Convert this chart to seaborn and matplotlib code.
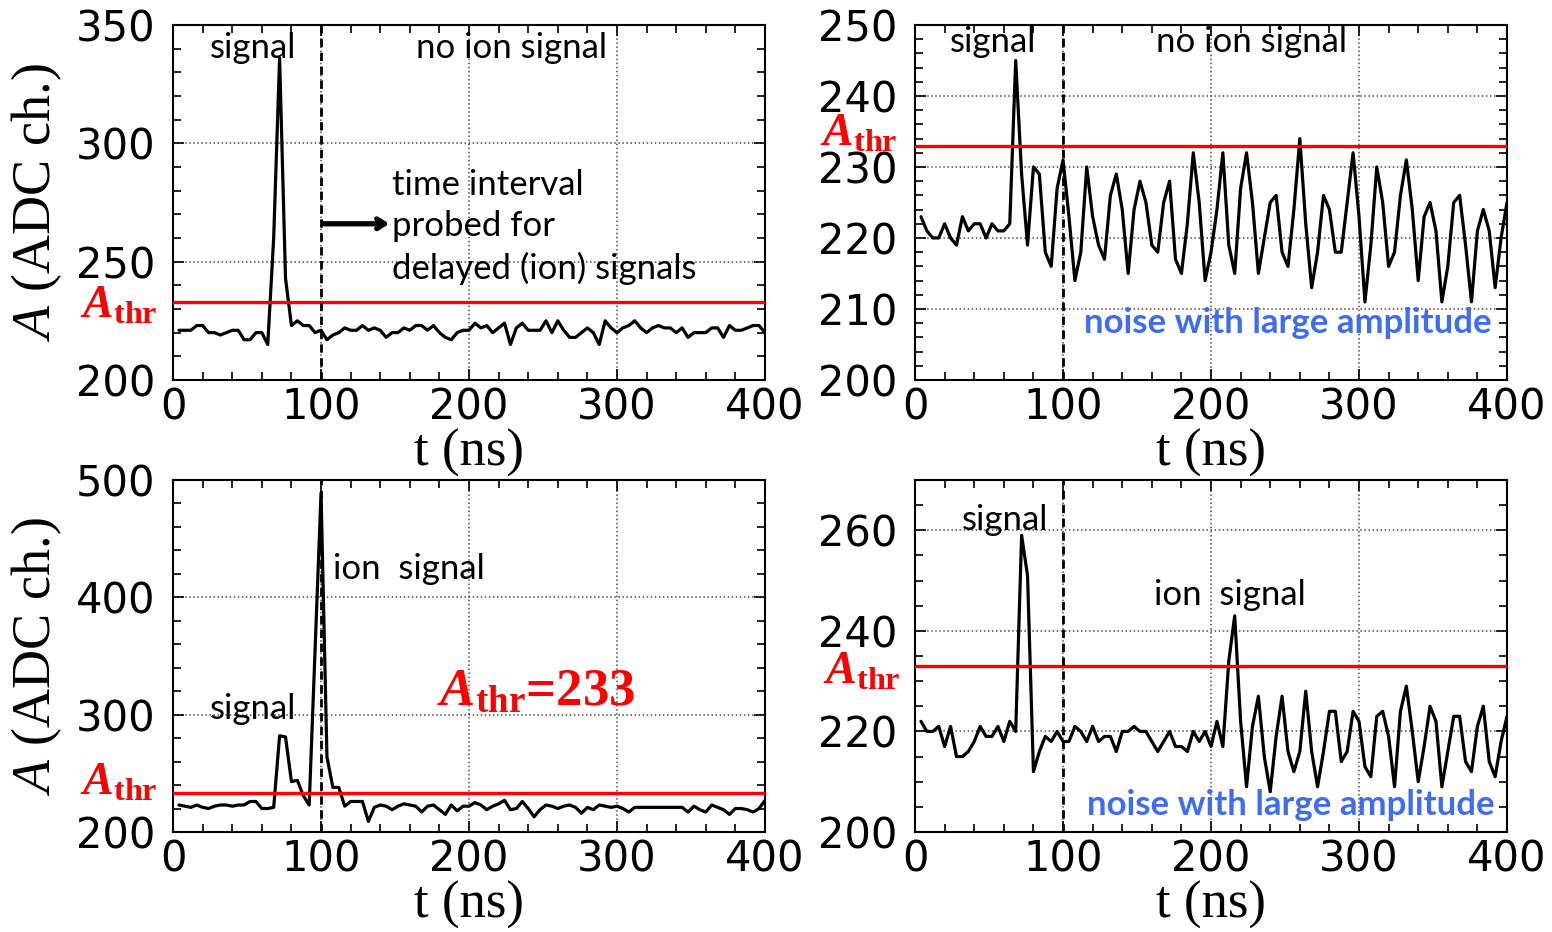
import numpy as np
import pandas as pd
import seaborn as sns
import matplotlib.pyplot as plt
from matplotlib.ticker import MultipleLocator

# === data (ADC samples every 4 ns) ===
t_ns = list(range(4, 401, 4))

amp_no_ion = [221, 221, 221, 223, 223, 220, 220, 219, 220, 221,
              221, 217, 217, 220, 220, 215, 260, 336, 243, 223,
              225, 223, 223, 220, 221, 217, 219, 220, 222, 221,
              221, 223, 221, 222, 221, 218, 220, 220, 222, 221,
              223, 223, 221, 223, 220, 218, 217, 220, 221, 221,
              224, 222, 223, 220, 222, 224, 215, 222, 224, 221,
              221, 221, 225, 220, 225, 221, 218, 218, 220, 222,
              220, 215, 225, 222, 220, 222, 223, 225, 222, 220,
              222, 223, 222, 222, 220, 222, 218, 220, 220, 220,
              222, 222, 218, 223, 221, 221, 222, 223, 223, 220]

amp_no_ion_noisy = [223, 221, 220, 220, 222, 220, 219, 223, 221, 222,
                    222, 220, 222, 221, 221, 222, 245, 229, 219, 230,
                    229, 218, 216, 227, 231, 223, 214, 218, 230, 223,
                    219, 217, 226, 229, 224, 215, 224, 228, 225, 219,
                    218, 225, 228, 217, 215, 222, 232, 225, 214, 218,
                    224, 232, 219, 215, 227, 232, 225, 215, 220, 225,
                    226, 218, 216, 224, 234, 222, 213, 218, 226, 224,
                    218, 218, 225, 232, 223, 211, 219, 230, 225, 216,
                    218, 226, 231, 224, 214, 223, 225, 221, 211, 216,
                    225, 226, 219, 211, 221, 224, 221, 213, 220, 225]

amp_ion = [223, 222, 221, 223, 221, 220, 222, 223, 223, 222,
           223, 223, 226, 226, 220, 220, 221, 282, 281, 243,
           244, 231, 223, 356, 489, 264, 238, 238, 222, 226,
           226, 226, 209, 221, 223, 222, 219, 222, 224, 223,
           222, 217, 222, 223, 219, 215, 223, 218, 222, 222,
           225, 223, 219, 222, 224, 227, 219, 220, 226, 220,
           213, 219, 223, 222, 220, 222, 223, 221, 216, 221,
           219, 223, 222, 221, 222, 220, 217, 221, 221, 221,
           221, 221, 221, 221, 221, 221, 217, 222, 219, 217,
           223, 221, 219, 215, 220, 220, 219, 217, 220, 227]

amp_ion_noisy = [222, 220, 220, 221, 217, 221, 215, 215, 216, 218,
                 221, 219, 219, 221, 218, 222, 220, 259, 251, 212,
                 216, 219, 218, 220, 218, 218, 221, 220, 218, 221,
                 218, 219, 219, 216, 220, 220, 221, 220, 220, 218,
                 216, 218, 220, 217, 217, 216, 220, 218, 220, 217,
                 222, 217, 234, 243, 222, 209, 221, 227, 215, 208,
                 219, 227, 216, 212, 216, 228, 216, 209, 216, 224,
                 224, 214, 216, 224, 222, 213, 211, 223, 224, 219,
                 209, 224, 229, 220, 210, 217, 225, 222, 209, 216,
                 223, 223, 214, 212, 221, 225, 214, 211, 218, 223]

a_thr = 233
t_gate = 100

x_ticks = [0, 100, 200, 300, 400]
y_limits = [(200, 350), (200, 250), (200, 500), (200, 270)]
y_major = [50, 10, 100, 20]
y_minor = [10, 2, 20, 5]

# === style ===
sns.set_style("ticks")
plt.rcParams['font.family'] = ['DejaVu Sans']
plt.rcParams['text.color'] = 'black'
plt.rcParams['axes.labelcolor'] = 'black'
plt.rcParams['mathtext.fontset'] = 'custom'
plt.rcParams['mathtext.rm'] = 'Liberation Serif'
plt.rcParams['mathtext.it'] = 'Liberation Serif:italic'
plt.rcParams['mathtext.bf'] = 'Liberation Serif:bold'
plt.rcParams['mathtext.bfit'] = 'Liberation Serif:italic:bold'

note_font = ['Lato', 'DejaVu Sans']
serif_font = ['Liberation Serif', 'DejaVu Serif']
thr_label = r'$\mathbfit{A}_{\mathbf{thr}}$'

fig = plt.figure(figsize=(15.52, 9.32), dpi=100)
boxes = [
    [0.1115, 0.5923, 0.3814, 0.3809],
    [0.5896, 0.5923, 0.3814, 0.3809],
    [0.1115, 0.1073, 0.3814, 0.3777],
    [0.5896, 0.1073, 0.3814, 0.3777],
]
series = [amp_no_ion, amp_no_ion_noisy, amp_ion, amp_ion_noisy]
axes = []
for i, box in enumerate(boxes):
    ax = fig.add_axes(box)
    df = pd.DataFrame({'t': t_ns, 'A': series[i]})
    sns.lineplot(data=df, x='t', y='A', ax=ax, color='black', lw=2.3)
    ax.axhline(a_thr, color='#ff0000', lw=2.4, zorder=3)
    ax.axvline(t_gate, color='black', ls=(0, (3, 2)), lw=2.0, zorder=3)
    ax.set_xlim(0, 400)
    ax.set_ylim(*y_limits[i])
    ax.set_xticks(x_ticks)
    ax.xaxis.set_minor_locator(MultipleLocator(20))
    ax.yaxis.set_major_locator(MultipleLocator(y_major[i]))
    ax.yaxis.set_minor_locator(MultipleLocator(y_minor[i]))
    ax.grid(True, which='major', ls=':', color='0.3', lw=1.1)
    ax.tick_params(which='both', direction='in', top=True, right=True,
                   labelsize=30, width=1.2, colors='black')
    ax.tick_params(which='major', length=8)
    ax.tick_params(which='minor', length=6)
    ax.tick_params(axis='x', which='major', pad=5)
    ax.tick_params(axis='y', which='major', pad=13)
    for sp in ax.spines.values():
        sp.set_linewidth(1.5)
        sp.set_color('black')
    ax.set_xlabel('t (ns)', fontsize=38, family=serif_font, labelpad=0,
                  color='black')
    if i % 2 == 0:
        ax.set_ylabel(r'$\mathit{A}$ (ADC ch.)', fontsize=39, family=serif_font,
                      labelpad=8, color='black')
    else:
        ax.set_ylabel('')
    axes.append(ax)

ax_tl, ax_tr, ax_bl, ax_br = axes

# === threshold labels beside the axes ===
thr_pos = [(-0.158, 0.175), (-0.161, 0.660), (-0.158, 0.105), (-0.156, 0.420)]
for ax, (fx, fy) in zip(axes, thr_pos):
    ax.text(fx, fy, thr_label, transform=ax.transAxes, color='#ff0000',
            fontsize=33, ha='left', va='baseline', clip_on=False)

ax_bl.text(0.446, 0.361, thr_label + '=233', transform=ax_bl.transAxes,
           color='#ff0000', fontsize=38, family=serif_font, fontweight='bold',
           ha='left', va='baseline')

# === annotations ===
kw = dict(family=note_font, fontsize=25, color='black', ha='center', va='center')
ax_tl.text(0.135, 0.935, 'signal', transform=ax_tl.transAxes, **kw)
ax_tl.text(0.571, 0.935, 'no ion signal', transform=ax_tl.transAxes, **kw)
ax_tl.text(0.370, 0.431, 'time interval\nprobed for\ndelayed (ion) signals',
           transform=ax_tl.transAxes, family=note_font, fontsize=25,
           color='black', ha='left', va='center', linespacing=1.35)
ax_tl.annotate('', xy=(148, 266), xytext=(t_gate, 266),
               arrowprops=dict(arrowstyle='->,head_length=0.55,head_width=0.35',
                               lw=3.8, color='black'))

ax_tr.text(0.132, 0.952, 'signal', transform=ax_tr.transAxes, **kw)
ax_tr.text(0.568, 0.952, 'no ion signal', transform=ax_tr.transAxes, **kw)

ax_bl.text(0.135, 0.349, 'signal', transform=ax_bl.transAxes, **kw)
ax_bl.text(0.399, 0.747, 'ion  signal', transform=ax_bl.transAxes, **kw)

ax_br.text(0.152, 0.886, 'signal', transform=ax_br.transAxes, **kw)
ax_br.text(0.532, 0.673, 'ion  signal', transform=ax_br.transAxes, **kw)

blue = dict(family=note_font, fontsize=25, fontweight='bold', color='#3d6cf5',
            ha='center', va='center')
ax_tr.text(0.630, 0.161, 'noise with large amplitude', transform=ax_tr.transAxes, **blue)
ax_br.text(0.635, 0.077, 'noise with large amplitude', transform=ax_br.transAxes, **blue)

fig.savefig('out.png', dpi=100)
